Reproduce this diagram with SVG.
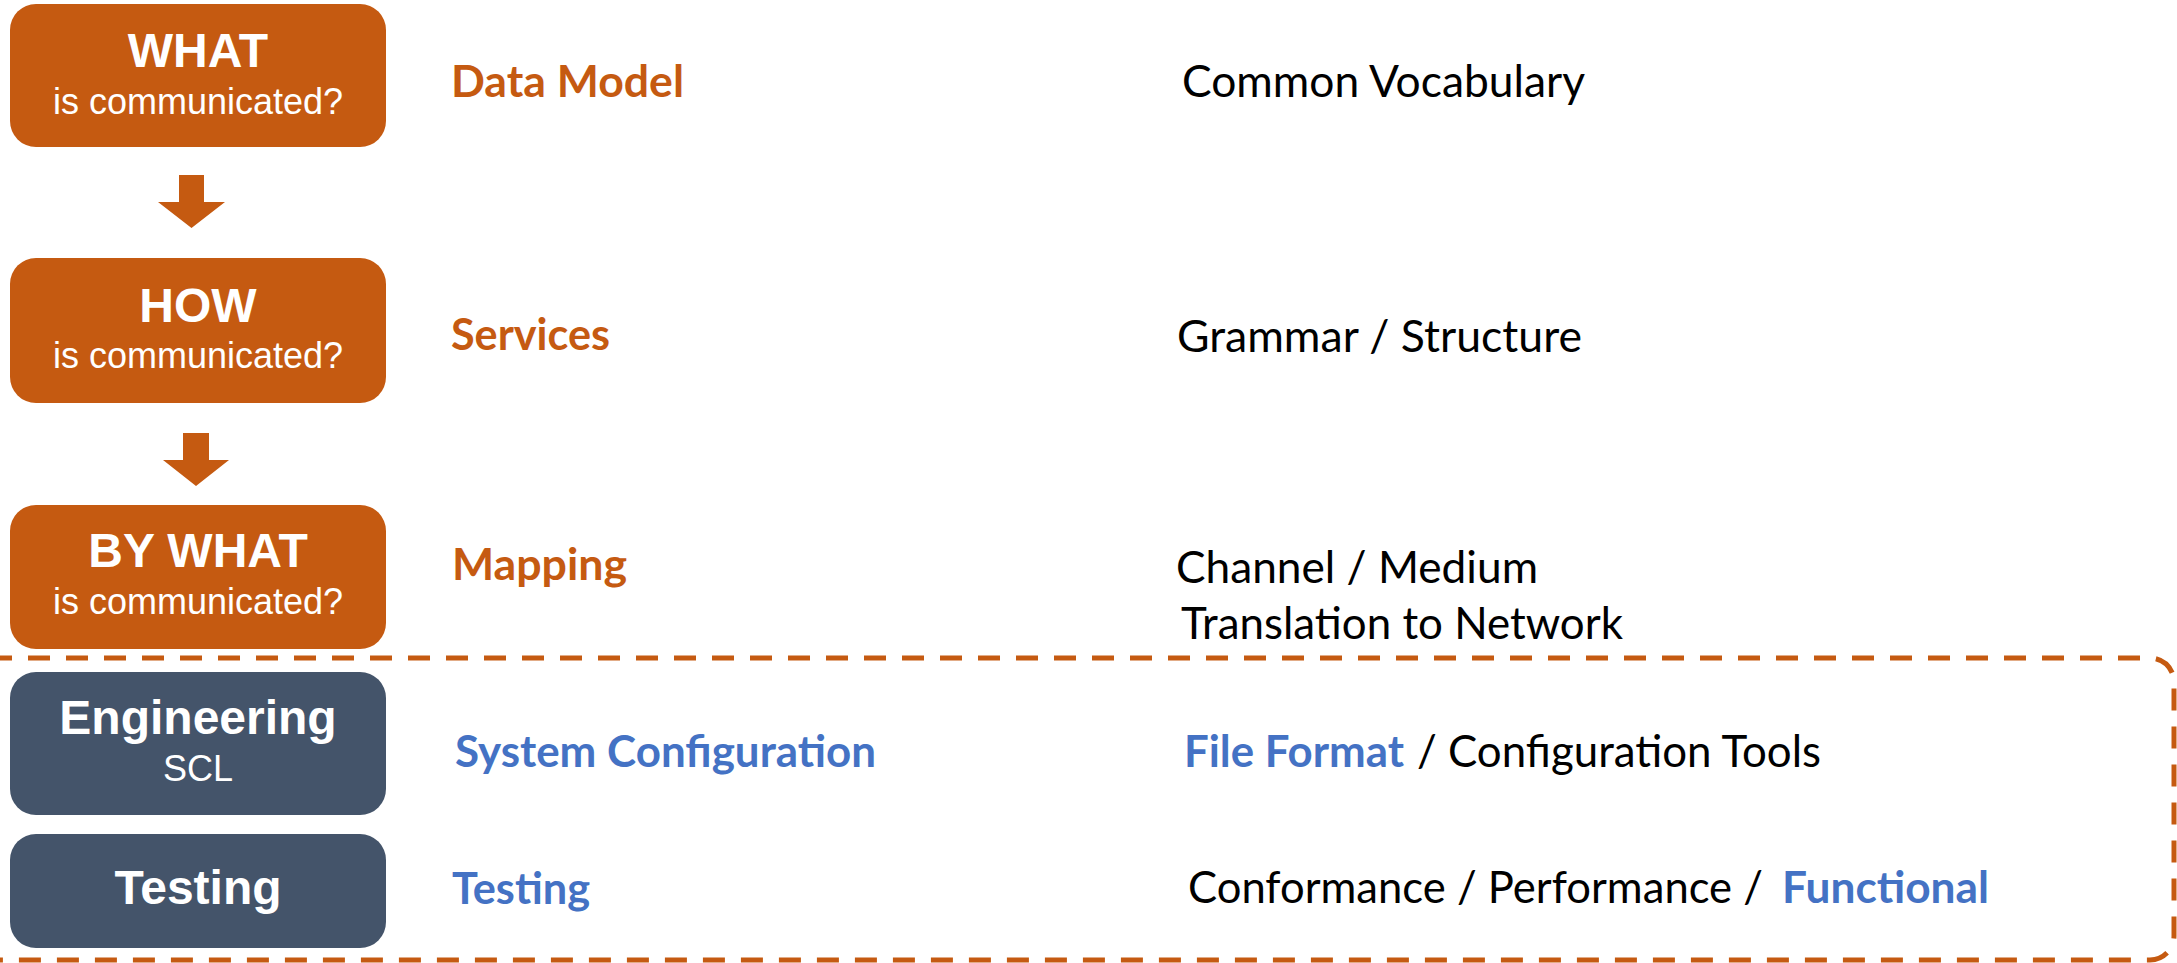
<svg xmlns="http://www.w3.org/2000/svg" width="2177" height="963" viewBox="0 0 2177 963">
<style>
.obox{fill:#C55A11;}
.dbox{fill:#44546A;}
.bt{font-family:"Liberation Sans",Arial,sans-serif;font-weight:bold;font-size:48px;fill:#fff;text-anchor:middle;}
.st{font-family:"Liberation Sans",Arial,sans-serif;font-size:36px;fill:#fff;text-anchor:middle;}
.mid{font-family:Lato,"Open Sans",sans-serif;font-weight:bold;font-size:44px;}
.or{fill:#C55A11;}
.bl{fill:#4472C4;}
.rt{font-family:Lato,"Open Sans",sans-serif;font-size:44px;fill:#000;}
.rtb{font-family:Lato,"Open Sans",sans-serif;font-weight:bold;font-size:44px;fill:#4472C4;}
.arr{fill:#C55A11;}
.frame{fill:none;stroke:#C55A11;stroke-width:5;stroke-dasharray:22 16;}
</style>
<rect width="2177" height="963" fill="#fff"/>

<g id="frame">
<path class="frame" d="M -10 658 H 2150 A 24 24 0 0 1 2174 682 V 936 A 24 24 0 0 1 2150 960 H -10"/>
</g>

<g id="connectors">
<polygon class="arr" points="179,175 204,175 204,202 225,202 191.5,228 158,202 179,202"/>
<polygon class="arr" points="183,433 209,433 209,460 229,460 196,486 163,460 183,460"/>
</g>

<g id="node-what">
<rect class="obox" x="10" y="4" width="376" height="143" rx="26"/>
<text class="bt" x="198" y="67">WHAT</text>
<text class="st" x="198" y="114">is communicated?</text>
</g>

<g id="node-how">
<rect class="obox" x="10" y="258" width="376" height="145" rx="26"/>
<text class="bt" x="198" y="322">HOW</text>
<text class="st" x="198" y="368">is communicated?</text>
</g>

<g id="node-bywhat">
<rect class="obox" x="10" y="505" width="376" height="144" rx="26"/>
<text class="bt" x="198" y="567">BY WHAT</text>
<text class="st" x="198" y="614">is communicated?</text>
</g>

<g id="node-engineering">
<rect class="dbox" x="10" y="672" width="376" height="143" rx="26"/>
<text class="bt" x="198" y="734">Engineering</text>
<text class="st" x="198" y="781">SCL</text>
</g>

<g id="node-testing">
<rect class="dbox" x="10" y="834" width="376" height="114" rx="26"/>
<text class="bt" x="198" y="904">Testing</text>
</g>

<g id="labels-mid">
<text class="mid or" x="451" y="97" textLength="233" lengthAdjust="spacingAndGlyphs">Data Model</text>
<text class="mid or" x="451" y="350" textLength="159" lengthAdjust="spacingAndGlyphs">Services</text>
<text class="mid or" x="452" y="580" textLength="175" lengthAdjust="spacingAndGlyphs">Mapping</text>
<text class="mid bl" x="455" y="767" textLength="421" lengthAdjust="spacingAndGlyphs">System Configuration</text>
<text class="mid bl" x="452" y="904" textLength="138" lengthAdjust="spacingAndGlyphs">Testing</text>
</g>

<g id="labels-right">
<text class="rt" x="1182" y="97" textLength="403" lengthAdjust="spacingAndGlyphs">Common Vocabulary</text>
<text class="rt" x="1177" y="352" textLength="405" lengthAdjust="spacingAndGlyphs">Grammar / Structure</text>
<text class="rt" x="1176" y="583" textLength="362" lengthAdjust="spacingAndGlyphs">Channel / Medium</text>
<text class="rt" x="1181" y="639" textLength="442" lengthAdjust="spacingAndGlyphs">Translation to Network</text>
<text class="rtb" x="1184" y="767" textLength="220" lengthAdjust="spacingAndGlyphs">File Format</text>
<text class="rt" x="1417" y="767" textLength="404" lengthAdjust="spacingAndGlyphs">/ Configuration Tools</text>
<text class="rt" x="1188" y="903" textLength="575" lengthAdjust="spacingAndGlyphs">Conformance / Performance /</text>
<text class="rtb" x="1782" y="903" textLength="207" lengthAdjust="spacingAndGlyphs">Functional</text>
</g>
</svg>
